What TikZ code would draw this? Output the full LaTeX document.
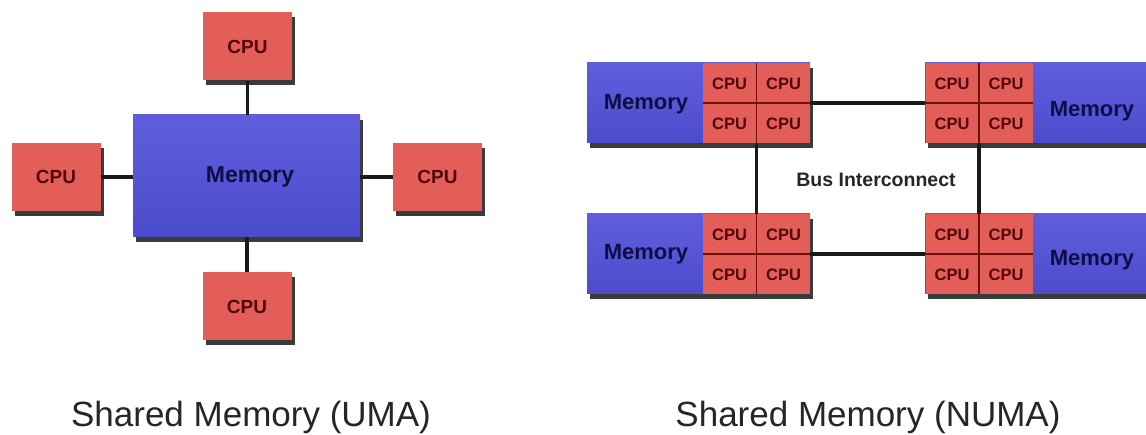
\documentclass[tikz,border=0pt]{standalone}
\usepackage{fontspec}
\setmainfont{Liberation Sans}
\usetikzlibrary{shadows}

\definecolor{cpured}{HTML}{E35E58}
\definecolor{cputext}{HTML}{520808}
\definecolor{memblue}{HTML}{5050DA}
\definecolor{memtext}{HTML}{0E0E44}
\definecolor{wire}{HTML}{1A1A1A}
\definecolor{gridred}{HTML}{701010}

\begin{document}
\begin{tikzpicture}[x=1pt,y=-1pt,
  boxshadow/.style={drop shadow={shadow xshift=3pt,shadow yshift=-5pt,fill=black!85,opacity=0.9}},
  cpu/.style={rectangle,inner sep=0pt,fill=cpured,boxshadow,
    minimum width=89pt,minimum height=68pt,
    text=cputext,font=\fontsize{19}{19}\selectfont\bfseries},
  mem/.style={rectangle,inner sep=0pt,boxshadow,
    top color=memblue!92!white,bottom color=memblue!94!black},
  memlabel/.style={text=memtext,font=\fontsize{23}{23}\selectfont\bfseries},
  quad/.style={rectangle,inner sep=0pt,fill=cpured,
    minimum width=107pt,minimum height=80pt},
  qcpu/.style={text=cputext,font=\fontsize{16.5}{16.5}\selectfont\bfseries},
  divider/.style={draw=gridred,line width=1.4pt},
  link/.style={draw=wire,line width=3.2pt},
  caption/.style={anchor=base,font=\fontsize{35}{35}\selectfont,text=black!85}
]
\useasboundingbox[fill=white] (0,0) rectangle (1146,435);

% ---------- UMA: one memory, four processors ----------
\node[mem,minimum width=227pt,minimum height=122pt] (umem) at (246.5,176) {};
\node[memlabel] (umemlbl) at (250,177) {Memory};
\node[cpu] (ctop)    at (247.5,46.5) {CPU};
\node[cpu] (cleft)   at (56,177)     {CPU};
\node[cpu] (cright)  at (437.5,177)  {CPU};
\node[cpu] (cbottom) at (247,306.5)  {CPU};

\draw[link] (ctop.south) -- (ctop.south |- umem.north);
\draw[link] (cbottom.north) -- (cbottom.north |- umem.south);
\draw[link] (cleft.east) -- (umem.west |- cleft.east);
\draw[link] (cright.west) -- (umem.east |- cright.west);

% ---------- NUMA: four nodes, each memory + 4 CPUs ----------
% memory strips (with shadow), CPU quads laid on top
\node[mem,minimum width=223pt,minimum height=80pt] (g1) at (698.5,103) {};
\node[mem,minimum width=225pt,minimum height=80pt] (g2) at (1037.5,103) {};
\node[mem,minimum width=223pt,minimum height=80pt] (g3) at (698.5,254) {};
\node[mem,minimum width=225pt,minimum height=80pt] (g4) at (1037.5,254) {};

\node[quad] (q1) at (756.5,103) {};
\node[quad] (q2) at (979,103)   {};
\node[quad] (q3) at (756.5,254) {};
\node[quad] (q4) at (979,254)   {};

\node[memlabel,font=\fontsize{22}{22}\selectfont\bfseries] (m1) at (646,104)  {Memory};
\node[memlabel,font=\fontsize{22}{22}\selectfont\bfseries] (m2) at (1092,111) {Memory};
\node[memlabel,font=\fontsize{22}{22}\selectfont\bfseries] (m3) at (646,254)  {Memory};
\node[memlabel,font=\fontsize{22}{22}\selectfont\bfseries] (m4) at (1092,260) {Memory};

\foreach \q in {q1,q2,q3,q4}{
  \draw[divider] (\q.north) -- (\q.south);
  \draw[divider] (\q.west) -- (\q.east);
  \node[qcpu] (\q-a) at ([shift={(-27,-19)}]\q.center) {CPU};
  \node[qcpu] (\q-b) at ([shift={(27,-19)}]\q.center)  {CPU};
  \node[qcpu] (\q-c) at ([shift={(-27,21)}]\q.center)  {CPU};
  \node[qcpu] (\q-d) at ([shift={(27,21)}]\q.center)   {CPU};
}

% bus interconnect
\draw[link] (q1.east) -- (q2.west);
\draw[link] (q3.east) -- (q4.west);
\draw[link] (q1.south) -- (q3.north);
\draw[link] (q2.south) -- (q4.north);
\node[text=black!85,font=\fontsize{19.5}{19.5}\selectfont\bfseries] (bus) at (876,180) {Bus Interconnect};

% ---------- captions ----------
\node[caption] (capu) at (251,427) {Shared Memory (UMA)};
\node[caption] (capn) at (868,427) {Shared Memory (NUMA)};
\end{tikzpicture}
\end{document}
